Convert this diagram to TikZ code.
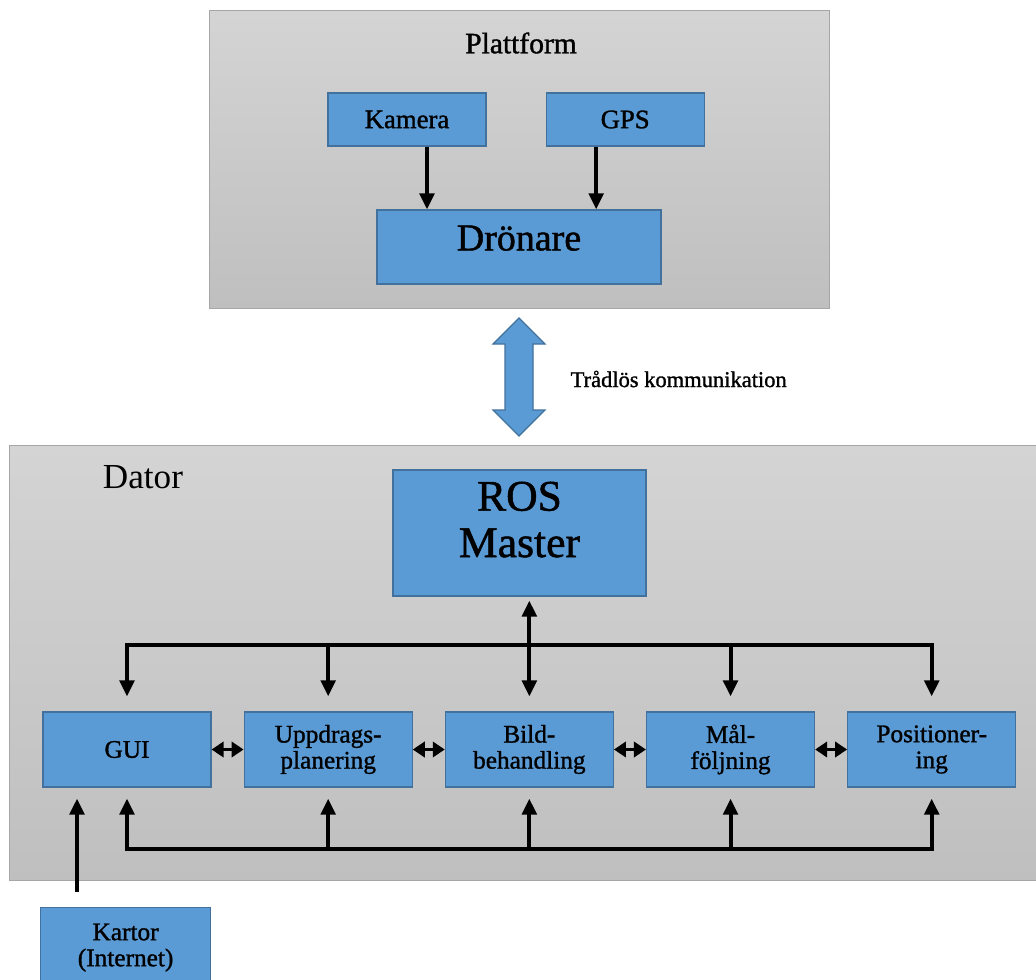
\documentclass[tikz,border=0pt]{standalone}
\usepackage{fontspec}
\setmainfont{Liberation Serif}
\newfontfamily\heavy{Liberation Serif}[FakeBold=1.2]
\usetikzlibrary{positioning,arrows.meta,calc}

\definecolor{boxblue}{HTML}{5B9BD5}
\definecolor{boxedge}{HTML}{41719C}
\definecolor{frametop}{HTML}{D4D4D4}
\definecolor{framebot}{HTML}{BFBFBF}
\definecolor{frameedge}{HTML}{A6A6A6}

\begin{document}
\begin{tikzpicture}[x=0.025cm,y=-0.025cm,>={Triangle[length=0.4cm,width=0.36cm]},
                    line width=2.8pt, node distance=0.8cm]
  \tikzstyle{frame}=[draw=frameedge, line width=0.8pt, top color=frametop,
                     bottom color=framebot, anchor=north west, inner sep=0pt]
  \tikzstyle{block}=[draw=boxedge, line width=0.8pt, fill=boxblue, inner sep=0pt, align=center]
  \tikzstyle{sensor}=[block, minimum width=3.95cm, minimum height=1.325cm,
                      font=\heavy\fontsize{19}{20}\selectfont]
  \tikzstyle{module}=[block, minimum width=4.2cm, minimum height=1.875cm,
                      font=\heavy\fontsize{18}{18.5}\selectfont]
  \tikzstyle{bus}=[line cap=rect]
  \tikzstyle{tapdown}=[->, shorten >=0.375cm]
  \tikzstyle{tapup}=[->, shorten >=0.275cm]
  \tikzstyle{pair}=[<->, >={Triangle[length=0.3cm,width=0.38cm]}]

  \useasboundingbox (0,0) rectangle (1036,979);

  % Plattform
  \node[frame, minimum width=15.5cm, minimum height=7.45cm] (plattformbox) at (209,10) {};
  \node[font=\heavy\fontsize{21}{24}\selectfont] (plattform) at (521,43) {Plattform};
  \node[sensor]                         (kamera) at (407,119.5) {Kamera};
  \node[sensor, right=1.475cm of kamera] (gps)                {GPS};
  \node[block, minimum width=7.1cm, minimum height=1.85cm, text height=0.7cm,
        text depth=0.53cm, font=\heavy\fontsize{27}{28}\selectfont] (dronare) at (519,247) {Drönare};

  \path[->] ([xshift=0.5cm]kamera.south) edge ([xshift=0.5cm]kamera.south |- dronare.north)
            ([xshift=-0.725cm]gps.south) edge ([xshift=-0.725cm]gps.south |- dronare.north);

  % link
  \draw[draw=boxedge, fill=boxblue, line width=0.8pt]
    (519,318) -- (545,344) -- (533,344) -- (533,410) -- (545,410) -- (519,436)
    -- (493,410) -- (505,410) -- (505,344) -- (493,344) -- cycle;
  \node[anchor=west, font=\heavy\fontsize{16}{18}\selectfont] (wireless) at (564,379) {Trådlös kommunikation};

  % Dator
  \node[frame, minimum width=26cm, minimum height=10.875cm] (datorbox) at (9,445) {};
  \node[font=\fontsize{25}{28}\selectfont] (dator) at (143,477) {Dator};
  \node[block, minimum width=6.325cm, minimum height=3.15cm, text height=1.5cm,
        text depth=0.3cm, font=\heavy\fontsize{31}{33}\selectfont] (ros) at (519.5,533) {ROS\\Master};

  \node[module]                  (gui)  at (127,749.5) {GUI};
  \node[module, right=of gui]    (upp)  {Uppdrags-\\planering};
  \node[module, right=of upp]    (bild) {Bild-\\behandling};
  \node[module, right=of bild]   (mal)  {Mål-\\följning};
  \node[module, right=of mal]    (pos)  {Positioner-\\ing};

  \path[pair] (gui) edge (upp)
              (upp) edge (bild)
              (bild) edge (mal)
              (mal) edge (pos);

  \coordinate (topbus) at (0,645);
  \coordinate (botbus) at (0,849);
  \draw[bus] (gui.north |- topbus) -- (pos.north |- topbus);
  \draw[bus] (gui.south |- botbus) -- (pos.south |- botbus);
  \foreach \m in {gui,upp,mal,pos}
    \draw[tapdown] (\m.north |- topbus) -- (\m.north);
  \foreach \m in {gui,upp,bild,mal,pos}
    \draw[tapup] (\m.south |- botbus) -- (\m.south);
  \draw[<->, shorten <=0.1cm, shorten >=0.375cm] (ros.south -| bild.north) -- (bild.north);

  % Kartor
  \node[block, anchor=north west, minimum width=4.25cm, minimum height=2cm,
        font=\heavy\fontsize{18}{18.5}\selectfont] (kartor) at (40,907) {Kartor\\(Internet)};
  \draw[->, shorten <=0.375cm, shorten >=0.275cm]
    ([xshift=0.925cm]kartor.north west) -- ([xshift=0.925cm]kartor.north west |- gui.south);

\end{tikzpicture}
\end{document}
